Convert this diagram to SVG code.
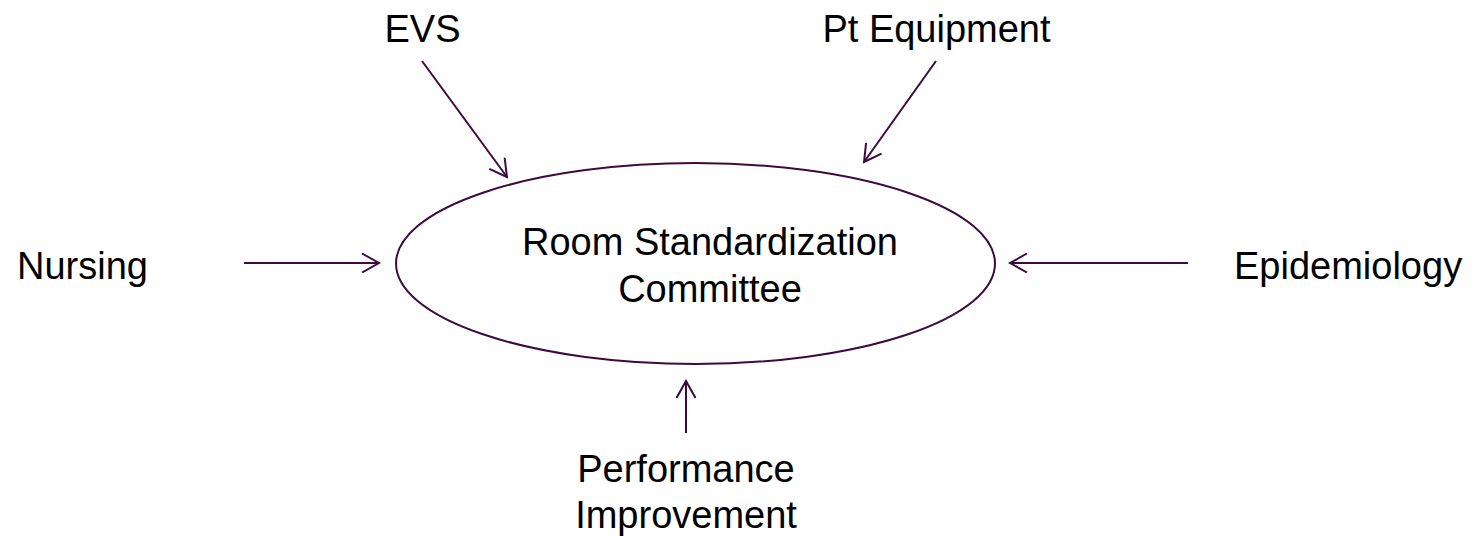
<svg xmlns="http://www.w3.org/2000/svg" width="1472" height="537" viewBox="0 0 1472 537">
<style>
.t{font-family:"Liberation Sans",Arial,sans-serif;font-size:38px;fill:#000}
.c{stroke:#3d0a3d;stroke-width:2;fill:none}
</style>
<defs>
<marker id="ah" viewBox="0 0 20 20" refX="18" refY="10" markerWidth="20" markerHeight="20" markerUnits="userSpaceOnUse" orient="auto">
<path d="M1,0.5 L18,10 L1,19.5" fill="none" stroke="#3d0a3d" stroke-width="2"/>
</marker>
</defs>
<rect width="1472" height="537" fill="#fff"/>
<g id="committee">
<ellipse cx="695.5" cy="263.5" rx="299.5" ry="100.5" class="c"/>
<text class="t" x="710" y="255" text-anchor="middle">Room Standardization</text>
<text class="t" x="710" y="302" text-anchor="middle">Committee</text>
</g>
<g id="evs"><text class="t" x="422.5" y="42" text-anchor="middle">EVS</text></g>
<g id="pt-equipment"><text class="t" x="936.5" y="42" text-anchor="middle">Pt Equipment</text></g>
<g id="nursing"><text class="t" x="17" y="279">Nursing</text></g>
<g id="epidemiology"><text class="t" x="1234" y="279">Epidemiology</text></g>
<g id="performance-improvement">
<text class="t" x="686" y="482" text-anchor="middle">Performance</text>
<text class="t" x="686" y="528" text-anchor="middle">Improvement</text>
</g>
<g id="connectors">
<line class="c" x1="422" y1="61" x2="507" y2="177" marker-end="url(#ah)"/>
<line class="c" x1="936" y1="61" x2="864" y2="162" marker-end="url(#ah)"/>
<line class="c" x1="244" y1="263" x2="379" y2="263" marker-end="url(#ah)"/>
<line class="c" x1="1188" y1="263" x2="1010" y2="263" marker-end="url(#ah)"/>
<line class="c" x1="686" y1="433" x2="686" y2="381" marker-end="url(#ah)"/>
</g>
</svg>
